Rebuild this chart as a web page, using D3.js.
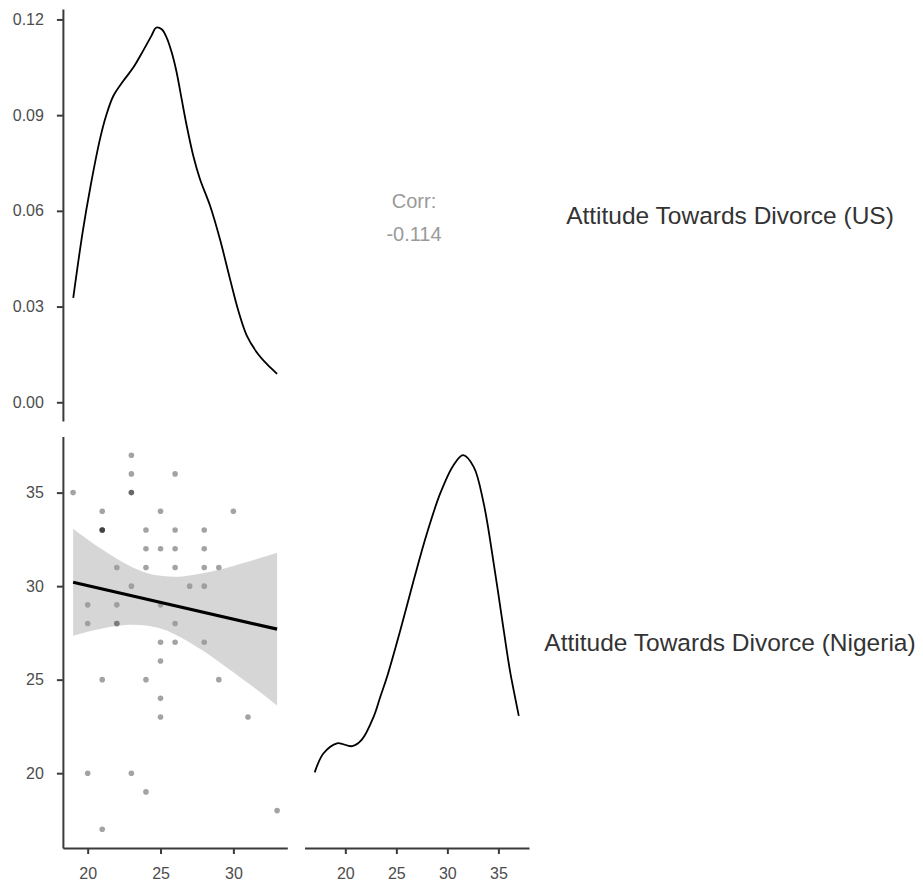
<!DOCTYPE html>
<html>
<head>
<meta charset="utf-8">
<script src="https://cdn.jsdelivr.net/npm/d3@7"></script>
<style>
  html, body { margin: 0; padding: 0; background: #ffffff; }
  svg { display: block; font-family: "Liberation Sans", Arial, sans-serif; }
</style>
</head>
<body>
<svg id="chart" width="923" height="889"></svg>
<script>
// Variable names shown on the right-hand strips
const variableLabels = ["Attitude Towards Divorce (US)", "Attitude Towards Divorce (Nigeria)"];

// Scatter data: paired scores (US attitude, Nigeria attitude)
const usScores = [19, 20, 20, 20, 21, 21, 21, 21, 21, 21, 22, 22, 22, 22,
  23, 23, 23, 23, 23, 23, 24, 24, 24, 24, 24, 25, 25, 25, 25, 25, 25, 25,
  26, 26, 26, 26, 26, 26, 27, 28, 28, 28, 28, 28, 29, 29, 30, 31, 33];
const ngScores = [35, 29, 28, 20, 34, 33, 33, 33, 25, 17, 31, 29, 28, 28,
  37, 36, 35, 35, 30, 20, 33, 32, 31, 25, 19, 34, 32, 29, 27, 26, 24, 23,
  36, 33, 32, 31, 28, 27, 30, 33, 32, 31, 30, 27, 31, 25, 34, 23, 18];

// Kernel density of the US scores
const usDensityX = [19.01, 19.65, 20.20, 20.84, 21.26, 21.76, 22.44, 23.13, 23.82,
  24.39, 24.69, 25.08, 25.42, 25.77, 26.11, 26.45, 26.80, 27.25, 27.71, 28.40,
  29.08, 29.77, 30.34, 30.92, 31.60, 32.29, 33.0];
const usDensityY = [0.0327, 0.0532, 0.0678, 0.0824, 0.0897, 0.0960, 0.1007, 0.1049, 0.1103,
  0.1150, 0.1174, 0.1169, 0.1143, 0.1096, 0.1033, 0.0950, 0.0866, 0.0772, 0.0699, 0.0616,
  0.0511, 0.0386, 0.0287, 0.0209, 0.0157, 0.0120, 0.0089];

// Kernel density of the Nigeria scores
const ngDensityX = [17.0, 17.87, 19.19, 20.66, 21.6, 22.78, 23.43, 24.09, 25.39, 26.7,
  28.0, 29.3, 30.6, 31.54, 32.58, 33.56, 34.54, 35.52, 36.18, 37.0];
const ngDensityY = [0.0137, 0.0183, 0.0207, 0.0200, 0.0215, 0.0271, 0.0319, 0.0367, 0.0479, 0.0599,
  0.0712, 0.0808, 0.0876, 0.0900, 0.0872, 0.0784, 0.0640, 0.0479, 0.0375, 0.0273];

// Linear fit and its 95% confidence band
const fitX = [19, 33];
const fitY = [30.21, 27.70];
const bandX = [19, 20, 21, 22, 23, 24, 25, 26, 27, 28, 29, 30, 31, 32, 33];
const bandUpper = [33.07, 32.50, 31.96, 31.47, 31.04, 30.72, 30.55, 30.50, 30.57, 30.70, 30.88, 31.08, 31.30, 31.54, 31.78];
const bandLower = [27.35, 27.56, 27.74, 27.87, 27.94, 27.90, 27.73, 27.42, 26.99, 26.50, 25.96, 25.40, 24.82, 24.23, 23.62];

const corrLabel = "Corr:";
const corrValue = "-0.114";

// Axis tick values
const usTicks = [20, 25, 30];
const ngTicksX = [20, 25, 30, 35];
const ngTicksY = [20, 25, 30, 35];
const densityTicks = [0, 0.03, 0.06, 0.09, 0.12];

// ---- layout -------------------------------------------------------------
const colRanges = [[62.9, 287.3], [304.5, 529]];
const rowRanges = [[9, 421], [436.5, 848]];

const expand = (lo, hi, f = 0.05) => { const r = hi - lo; return [lo - r * f, hi + r * f]; };

const xUS = d3.scaleLinear().domain(expand(d3.min(usScores), d3.max(usScores))).range(colRanges[0]);
const xNG = d3.scaleLinear().domain(expand(d3.min(ngScores), d3.max(ngScores))).range(colRanges[1]);
const yNG = d3.scaleLinear().domain(expand(d3.min(ngScores), d3.max(ngScores))).range([rowRanges[1][1], rowRanges[1][0]]);
const yUSDens = d3.scaleLinear().domain(expand(0, d3.max(usDensityY))).range([rowRanges[0][1], rowRanges[0][0]]);
const yNGDens = d3.scaleLinear().domain(expand(0, d3.max(ngDensityY))).range([rowRanges[1][1], rowRanges[1][0]]);

const svg = d3.select("#chart");

const axisColor = "#3a3a3a";
const tickTextColor = "#4d4d4d";

function styleAxis(g) {
  g.select(".domain").attr("stroke", axisColor).attr("stroke-width", 2);
  g.selectAll(".tick line").attr("stroke", axisColor).attr("stroke-width", 2);
  g.selectAll(".tick text").attr("fill", tickTextColor).attr("font-size", 16)
    .attr("font-family", "\"Liberation Sans\", Arial, sans-serif");
}

// ---- top-left: US density ----------------------------------------------
const usLine = d3.line()
  .x((d, i) => xUS(usDensityX[i]))
  .y(d => yUSDens(d))
  .curve(d3.curveCatmullRom.alpha(0.5));
svg.append("path")
  .datum(usDensityY)
  .attr("d", usLine)
  .attr("fill", "none")
  .attr("stroke", "#000")
  .attr("stroke-width", 1.8);

svg.append("g")
  .attr("transform", `translate(${colRanges[0][0]},0)`)
  .call(d3.axisLeft(yUSDens).tickValues(densityTicks).tickFormat(d3.format(".2f"))
    .tickSize(6).tickSizeOuter(0).tickPadding(13))
  .call(styleAxis);

// ---- top-right: correlation text ---------------------------------------
const corrX = 414;
svg.append("text")
  .attr("x", corrX).attr("y", 207.5)
  .attr("text-anchor", "middle")
  .attr("font-size", 20)
  .attr("fill", "#9a9a9a")
  .text(corrLabel);
svg.append("text")
  .attr("x", corrX).attr("y", 241)
  .attr("text-anchor", "middle")
  .attr("font-size", 20)
  .attr("fill", "#9a9a9a")
  .text(corrValue);

// ---- bottom-left: scatter with linear fit ------------------------------
const points = usScores.map((x, i) => ({ x, y: ngScores[i] }));
svg.append("g")
  .selectAll("circle")
  .data(points)
  .join("circle")
  .attr("cx", d => xUS(d.x))
  .attr("cy", d => yNG(d.y))
  .attr("r", 2.8)
  .attr("fill", "#000")
  .attr("fill-opacity", 0.36);

const band = d3.area()
  .x((d, i) => xUS(bandX[i]))
  .y0((d, i) => yNG(bandLower[i]))
  .y1(d => yNG(d))
  .curve(d3.curveMonotoneX);
svg.append("path")
  .datum(bandUpper)
  .attr("d", band)
  .attr("fill", "#999999")
  .attr("fill-opacity", 0.4);

svg.append("path")
  .datum(fitY)
  .attr("d", d3.line().x((d, i) => xUS(fitX[i])).y(d => yNG(d)))
  .attr("fill", "none")
  .attr("stroke", "#000")
  .attr("stroke-width", 3.2);

svg.append("g")
  .attr("transform", `translate(${colRanges[0][0]},0)`)
  .call(d3.axisLeft(yNG).tickValues(ngTicksY).tickSize(6).tickSizeOuter(0).tickPadding(13))
  .call(styleAxis);

svg.append("g")
  .attr("transform", `translate(0,${rowRanges[1][1]})`)
  .call(d3.axisBottom(xUS).tickValues(usTicks).tickSize(6).tickSizeOuter(0).tickPadding(14))
  .call(styleAxis);

// ---- bottom-right: Nigeria density -------------------------------------
const ngLine = d3.line()
  .x((d, i) => xNG(ngDensityX[i]))
  .y(d => yNGDens(d))
  .curve(d3.curveCatmullRom.alpha(0.5));
svg.append("path")
  .datum(ngDensityY)
  .attr("d", ngLine)
  .attr("fill", "none")
  .attr("stroke", "#000")
  .attr("stroke-width", 1.8);

svg.append("g")
  .attr("transform", `translate(0,${rowRanges[1][1]})`)
  .call(d3.axisBottom(xNG).tickValues(ngTicksX).tickSize(6).tickSizeOuter(0).tickPadding(14))
  .call(styleAxis);

// ---- strip labels on the right -----------------------------------------
const stripX = 730;
variableLabels.forEach((label, i) => {
  const mid = (rowRanges[i][0] + rowRanges[i][1]) / 2;
  svg.append("text")
    .attr("x", stripX)
    .attr("y", mid + 8.8)
    .attr("text-anchor", "middle")
    .attr("font-size", 24.5)
    .attr("fill", "#333333")
    .text(label);
});
</script>
</body>
</html>
